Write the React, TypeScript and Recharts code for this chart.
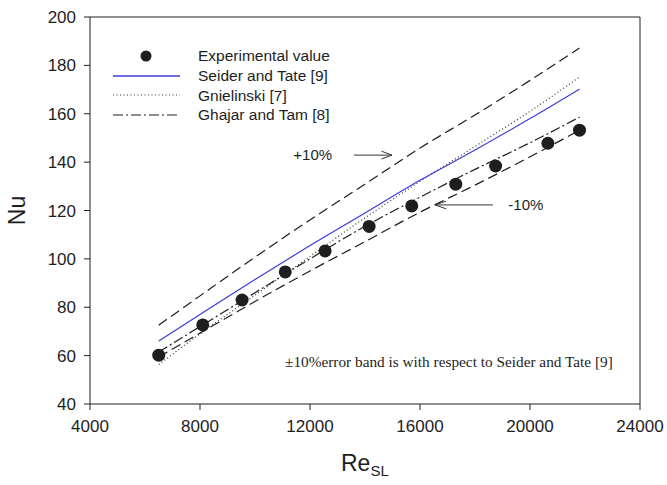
import React from 'react';
import {
    ComposedChart,
    Line,
    Scatter,
    XAxis,
    YAxis,
    ReferenceLine,
    ReferenceDot,
} from 'recharts';

// experimental points
const RE_EXP = [6500, 8100, 9530, 11100, 12550, 14150, 15700, 17300, 18750, 20650, 21800];
const NU_EXP = [60.2, 72.7, 83.0, 94.6, 103.3, 113.4, 121.9, 130.9, 138.4, 147.8, 153.2];

// correlations, read at these Re values
const RE_CORR = [6500, 8000, 10000, 12000, 14000, 16000, 18000, 20000, 21800];
const NU_SEIDER = [66, 77, 91.5, 105.5, 119, 132.5, 145, 158, 170.2];
const NU_PLUS10 = [72.6, 84.7, 100.7, 116.1, 130.9, 145.8, 159.5, 173.8, 187.2];
const NU_MINUS10 = [59.4, 69.3, 82.4, 95, 107.1, 119.3, 130.5, 142.2, 153.2];
const NU_GNIEL = [56.3, 69, 85, 101, 117, 132, 146.5, 161, 175.2];
const NU_GHAJAR = [61.5, 72, 86, 100, 113.5, 125.5, 137, 148, 158.6];

const X_TICKS = [4000, 8000, 12000, 16000, 20000, 24000];
const Y_TICKS = [40, 60, 80, 100, 120, 140, 160, 180, 200];

const SANS = 'Arial, "Liberation Sans", sans-serif';
const SERIF = '"Times New Roman", "Liberation Serif", serif';
const BLUE = '#3b3bdc';
const INK = '#1e1e1e';

const toPoints = (xs: number[], ys: number[]) => xs.map((x, i) => ({ x, y: ys[i] }));

const expData = toPoints(RE_EXP, NU_EXP);
const seiderData = toPoints(RE_CORR, NU_SEIDER);
const plusData = toPoints(RE_CORR, NU_PLUS10);
const minusData = toPoints(RE_CORR, NU_MINUS10);
const gnielData = toPoints(RE_CORR, NU_GNIEL);
const ghajarData = toPoints(RE_CORR, NU_GHAJAR);

const YLabel = ({ viewBox }: any) => {
    const cy = viewBox.y + viewBox.height / 2;
    const cx = 25;
    return (
        <text x={cx} y={cy} transform={`rotate(-90, ${cx}, ${cy})`} textAnchor="middle"
            fontFamily={SANS} fontSize={23} fill={INK}>Nu</text>
    );
};

const XLabel = ({ viewBox }: any) => {
    const cx = viewBox.x + viewBox.width / 2;
    return (
        <text x={cx - 24} y={471} fontFamily={SANS} fontSize={23} fill={INK}>
            Re<tspan fontSize={15} dy={5}>SL</tspan>
        </text>
    );
};

const legendRows = [
    { name: 'Experimental value', kind: 'dot' },
    { name: 'Seider and Tate [9]', kind: 'solid' },
    { name: 'Gnielinski [7]', kind: 'dotted' },
    { name: 'Ghajar and Tam [8]', kind: 'dashdot' },
];

const LegendIcon = ({ kind }: { kind: string }) => (
    <svg width={70} height={12} style={{ display: 'block' }}>
        {kind === 'dot' && <circle cx={34} cy={6} r={5.5} fill={INK} />}
        {kind === 'solid' && <line x1={1} y1={6} x2={68} y2={6} stroke={BLUE} strokeWidth={1.3} />}
        {kind === 'dotted' && <line x1={1} y1={6} x2={68} y2={6} stroke="#333" strokeWidth={1.2} strokeDasharray="1 2.5" />}
        {kind === 'dashdot' && <line x1={1} y1={6} x2={68} y2={6} stroke={INK} strokeWidth={1.2} strokeDasharray="10 3 2 3" />}
    </svg>
);

export default function App() {
    return (
        <div style={{ position: 'absolute', left: 0, top: 0, width: 667, height: 485, background: '#fff' }}>
            <ComposedChart width={667} height={485} margin={{ top: 17, right: 27, bottom: 0, left: 30 }}>
                <XAxis dataKey="x" type="number" domain={[4000, 24000]} ticks={X_TICKS}
                    height={81} stroke={INK} tickSize={6} tickMargin={10}
                    tick={{ fontFamily: SANS, fontSize: 17, fill: INK }}
                    label={<XLabel />} allowDataOverflow />
                <YAxis dataKey="y" type="number" domain={[40, 200]} ticks={Y_TICKS}
                    width={60} stroke={INK} tickSize={6} tickMargin={8}
                    tick={{ fontFamily: SANS, fontSize: 17, fill: INK }}
                    label={<YLabel />} allowDataOverflow />
                <ReferenceLine y={200} stroke={INK} />
                <ReferenceLine x={24000} stroke={INK} />

                <Line data={plusData} dataKey="y" type="monotone" stroke={INK} strokeWidth={1.2}
                    strokeDasharray="10 5" dot={false} isAnimationActive={false} />
                <Line data={minusData} dataKey="y" type="monotone" stroke={INK} strokeWidth={1.2}
                    strokeDasharray="10 5" dot={false} isAnimationActive={false} />
                <Line data={gnielData} dataKey="y" type="monotone" stroke="#333" strokeWidth={1.2}
                    strokeDasharray="1 2.5" dot={false} isAnimationActive={false} />
                <Line data={ghajarData} dataKey="y" type="monotone" stroke={INK} strokeWidth={1.2}
                    strokeDasharray="10 3 2 3" dot={false} isAnimationActive={false} />
                <Line data={seiderData} dataKey="y" type="monotone" stroke={BLUE} strokeWidth={1.2}
                    dot={false} isAnimationActive={false} />
                <Scatter data={expData} dataKey="y" fill={INK} isAnimationActive={false}
                    shape={(p: any) => <circle cx={p.cx} cy={p.cy} r={6.5} fill={INK} />} />

                {/* +10% arrow */}
                <ReferenceLine segment={[{ x: 13600, y: 142.9 }, { x: 14980, y: 142.9 }]} stroke="#333" />
                <ReferenceLine segment={[{ x: 14600, y: 144.5 }, { x: 14980, y: 142.9 }]} stroke="#333" />
                <ReferenceLine segment={[{ x: 14600, y: 141.3 }, { x: 14980, y: 142.9 }]} stroke="#333" />
                <ReferenceDot x={12100} y={142.9} r={0} fill="none" stroke="none"
                    label={{ value: '+10%', position: 'center', fontFamily: SANS, fontSize: 15, fill: INK }} />

                {/* -10% arrow */}
                <ReferenceLine segment={[{ x: 18650, y: 122.3 }, { x: 16550, y: 122.3 }]} stroke="#333" />
                <ReferenceLine segment={[{ x: 16950, y: 123.9 }, { x: 16550, y: 122.3 }]} stroke="#333" />
                <ReferenceLine segment={[{ x: 16950, y: 120.7 }, { x: 16550, y: 122.3 }]} stroke="#333" />
                <ReferenceDot x={19850} y={122.3} r={0} fill="none" stroke="none"
                    label={{ value: '-10%', position: 'center', fontFamily: SANS, fontSize: 15, fill: INK }} />

                <ReferenceDot x={17050} y={57.6} r={0} fill="none" stroke="none"
                    label={{ value: '±10%error band is with respect to Seider and Tate [9]', position: 'center',
                        fontFamily: SERIF, fontSize: 15.3, fill: INK }} />
            </ComposedChart>

            <div style={{ position: 'absolute', left: 112, top: 46, fontFamily: SANS, fontSize: 15.5, color: INK }}>
                {legendRows.map((row) => (
                    <div key={row.name} style={{ display: 'flex', alignItems: 'center', height: 19.7 }}>
                        <LegendIcon kind={row.kind} />
                        <span style={{ marginLeft: 16, lineHeight: '19px' }}>{row.name}</span>
                    </div>
                ))}
            </div>
        </div>
    );
}
